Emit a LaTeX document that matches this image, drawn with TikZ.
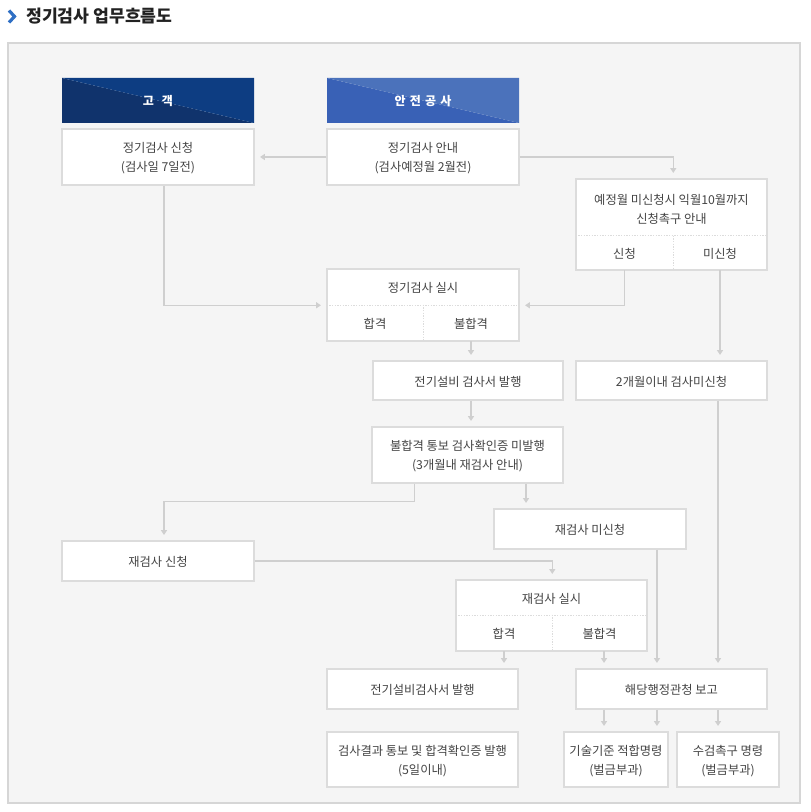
\documentclass[tikz,border=0pt]{standalone}
\usepackage{fontspec}
\setmainfont{Noto Sans CJK KR}
\usetikzlibrary{fit,arrows.meta,calc}
\definecolor{panelfill}{HTML}{F5F5F5}
\definecolor{panelline}{HTML}{D6D6D6}
\definecolor{boxline}{HTML}{DCDCDC}
\definecolor{arrline}{HTML}{CFCFCF}
\definecolor{txt}{HTML}{444444}
\definecolor{ttl}{HTML}{222222}
\definecolor{chev}{HTML}{2F6FC4}
\definecolor{hdAlo}{HTML}{10336C}
\definecolor{hdAhi}{HTML}{0D3D82}
\definecolor{hdBlo}{HTML}{3961B6}
\definecolor{hdBhi}{HTML}{4B72BB}
\tikzset{
  boxtext/.style={font=\fontsize{9.2}{14.2}\selectfont, text=txt, align=center, inner sep=0pt, yshift=-0.9pt},
  box/.style={draw=boxline, fill=white, line width=1.1pt, inner sep=0pt},
  panelbox/.style={draw=panelline, fill=panelfill, line width=1.1pt, inner sep=0pt},
  hdrtext/.style={inner sep=0pt, text=white, font=\bfseries\fontsize{9}{11}\selectfont, yshift=-0.6pt},
  hdrA/.style={inner sep=0pt,
    path picture={
      \fill[hdAlo] (path picture bounding box.north west) -- (path picture bounding box.south west) -- (path picture bounding box.south east) -- cycle;
      \fill[hdAhi] (path picture bounding box.north west) -- (path picture bounding box.north east) -- (path picture bounding box.south east) -- cycle;}},
  hdrB/.style={inner sep=0pt,
    path picture={
      \fill[hdBlo] (path picture bounding box.north west) -- (path picture bounding box.south west) -- (path picture bounding box.south east) -- cycle;
      \fill[hdBhi] (path picture bounding box.north west) -- (path picture bounding box.north east) -- (path picture bounding box.south east) -- cycle;}},
  arr/.style={draw=arrline, line width=1pt, -{Triangle[width=4.5pt,length=3.6pt]}, shorten >=4pt},
  splitline/.style={draw=boxline, line width=0.75pt, dash pattern=on 1pt off 1pt}
}
\begin{document}
\begin{tikzpicture}[x=0.75pt,y=-0.75pt]
\useasboundingbox (0,0) rectangle (810,812);
% title
\draw[chev, line width=2.4pt, miter limit=10] (9,10.5) -- (14.5,16.5) -- (9,22.5);
\node[anchor=west, inner sep=0pt, text=ttl, font=\bfseries\fontsize{12.9}{15}\selectfont] (title) at (26,16) {정기검사 업무흐름도};
% panel
\node[panelbox, fit={(8,43)(800,803)}] (panel) {};
% headers
\node[hdrA, fit={(62,78)(254,123)}] (h1) {};
\node[hdrtext] (h1T) at (h1.center) {고\hspace{6pt}객};
\node[hdrB, fit={(327,78)(519,123)}] (h2) {};
\node[hdrtext] (h2T) at (h2.center) {안\hspace{3.2pt}전\hspace{3.2pt}공\hspace{3.2pt}사};
% row 1
\node[box, fit={(62,129)(254,185)}] (sc) {};
\node[boxtext] (scT) at (sc.center) {정기검사 신청\\(검사일 7일전)};
\node[box, fit={(327,129)(519,185)}] (an) {};
\node[boxtext] (anT) at (an.center) {정기검사 안내\\(검사예정월 2월전)};
% 예정월 box
\node[box, fit={(576,179)(767,270)}] (yj) {};
\coordinate (yjt) at (671.5,208.5);
\node[boxtext] (yjtT) at (yjt) {예정월 미신청시 익월10월까지\\신청촉구 안내};
\node[inner sep=0pt, fit={(576,236)(673,270)}] (yja) {};
\node[inner sep=0pt, fit={(673,236)(767,270)}] (yjb) {};
\node[boxtext] (yjaT) at (yja.center) {신청};
\node[boxtext] (yjbT) at (yjb.center) {미신청};
\draw[splitline] (yja.north west) -- (yjb.north east);
\draw[splitline] (yja.north east) -- (yja.south east);
% 정기검사 실시
\node[box, fit={(327,269)(519,341)}] (js) {};
\node[inner sep=0pt, fit={(327,269)(519,305)}] (jst) {};
\node[inner sep=0pt, fit={(327,305)(423,341)}] (jpass) {};
\node[inner sep=0pt, fit={(423,305)(519,341)}] (jfail) {};
\node[boxtext] (jstT) at (jst.center) {정기검사 실시};
\node[boxtext] (jpassT) at (jpass.center) {합격};
\node[boxtext] (jfailT) at (jfail.center) {불합격};
\draw[splitline] (jst.south west) -- (jst.south east);
\draw[splitline] (jpass.north east) -- (jpass.south east);
% row
\node[box, fit={(373,361)(563,400)}] (ebi) {};
\node[boxtext] (ebiT) at (ebi.center) {전기설비 검사서 발행};
\node[box, fit={(576,361)(767,400)}] (m2) {};
\node[boxtext] (m2T) at (m2.center) {2개월이내 검사미신청};
\node[box, fit={(372,427)(563,483)}] (bh) {};
\node[boxtext] (bhT) at (bh.center) {불합격 통보 검사확인증 미발행\\(3개월내 재검사 안내)};
\node[box, fit={(494,509)(686,549)}] (rmi) {};
\node[boxtext] (rmiT) at (rmi.center) {재검사 미신청};
\node[box, fit={(62,541)(254,581)}] (rsc) {};
\node[boxtext] (rscT) at (rsc.center) {재검사 신청};
% 재검사 실시
\node[box, fit={(456,580)(647,651)}] (rs) {};
\node[inner sep=0pt, fit={(456,580)(647,615)}] (rst) {};
\node[inner sep=0pt, fit={(456,615)(552,651)}] (rpass) {};
\node[inner sep=0pt, fit={(552,615)(647,651)}] (rfail) {};
\node[boxtext] (rstT) at (rst.center) {재검사 실시};
\node[boxtext] (rpassT) at (rpass.center) {합격};
\node[boxtext] (rfailT) at (rfail.center) {불합격};
\draw[splitline] (rst.south west) -- (rst.south east);
\draw[splitline] (rpass.north east) -- (rpass.south east);
% bottom rows
\node[box, fit={(327,669)(518,709)}] (ebi2) {};
\node[boxtext] (ebi2T) at (ebi2.center) {전기설비검사서 발행};
\node[box, fit={(576,669)(767,709)}] (hd) {};
\node[boxtext] (hdT) at (hd.center) {해당행정관청 보고};
\node[box, fit={(327,732)(518,787)}] (res) {};
\node[boxtext] (resT) at (res.center) {검사결과 통보 및 합격확인증 발행\\(5일이내)};
\node[box, fit={(564,732)(668,787)}] (gs) {};
\node[boxtext] (gsT) at (gs.center) {기술기준 적합명령\\(벌금부과)};
\node[box, fit={(677,732)(779,787)}] (sg) {};
\node[boxtext] (sgT) at (sg.center) {수검촉구 명령\\(벌금부과)};
% helper coordinates
\coordinate (xa) at ([xshift=-50.6pt]hd.north);
\coordinate (xb) at ([xshift=-10.9pt]hd.north);
\coordinate (xc) at ([xshift=34.9pt]hd.north);
\coordinate (k1) at ([xshift=-40pt,yshift=-13.5pt]bh.south);
% connectors
\draw[arr] (an.west) -- (sc.east);
\draw[arr] (an.east) -| (yj.north -| yja.east);
\draw[arr] ([xshift=4.5pt]sc.south) |- (js.west |- jst.south);
\draw[arr] (yja.south) |- (js.east |- jst.south);
\draw[arr] (yjb.south) -- (yjb.south |- m2.north);
\draw[arr] (jfail.south) -- (jfail.south |- ebi.north);
\draw[arr] (ebi.south -| jfail.south) -- (jfail.south |- bh.north);
\draw[arr] ([xshift=-40pt]bh.south) -- (k1) -| ([xshift=4.5pt]rsc.north);
\draw[arr] ([xshift=43.9pt]bh.south) -- ([xshift=43.9pt]bh.south |- rmi.north);
\draw[arr] (rsc.east) -| (rs.north -| rpass.east);
\draw[arr] (rpass.south) -- (rpass.south |- ebi2.north);
\draw[arr] (rfail.south -| xa) -- (xa);
\draw[arr] (rmi.south -| xb) -- (xb);
\draw[arr] (m2.south -| xc) -- (xc);
\draw[arr] (hd.south -| xa) -- (gs.north -| xa);
\draw[arr] (hd.south -| xb) -- (gs.north -| xb);
\draw[arr] (hd.south -| xc) -- (sg.north -| xc);
\end{tikzpicture}
\end{document}
